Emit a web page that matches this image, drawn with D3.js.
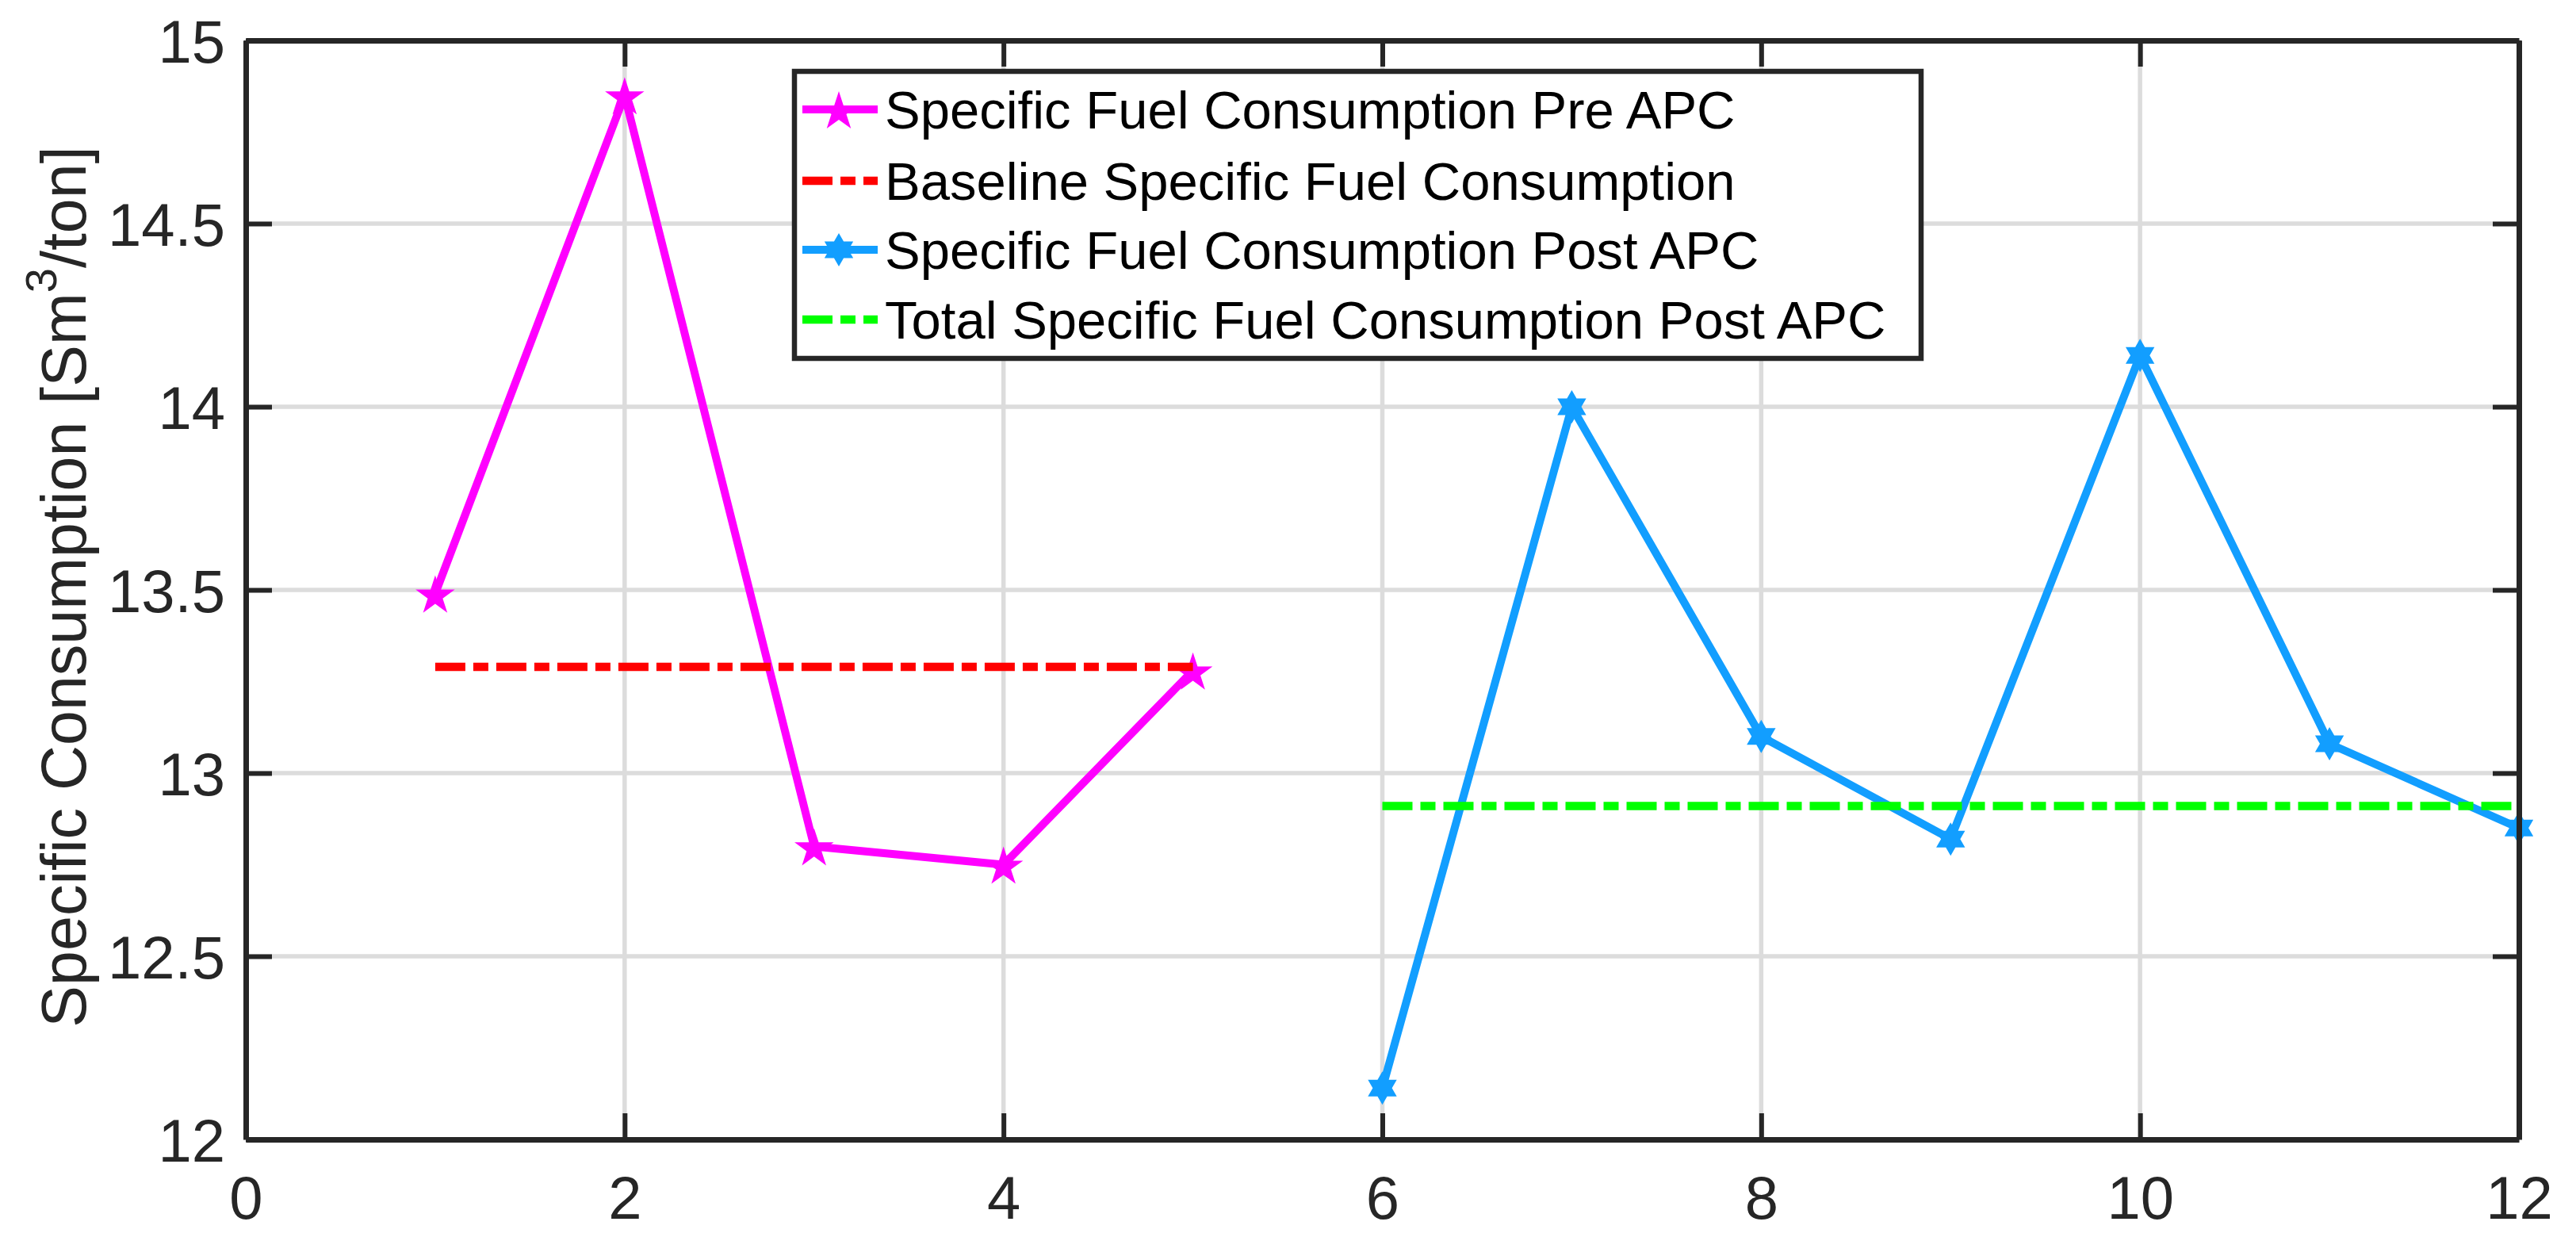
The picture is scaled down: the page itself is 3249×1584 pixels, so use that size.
<!DOCTYPE html>
<html>
<head>
<meta charset="utf-8">
<script src="https://cdn.jsdelivr.net/npm/d3@7"></script>
<style>
  html, body { margin: 0; padding: 0; background: #ffffff; }
  svg { display: block; }
  text { font-family: "Liberation Sans", Arial, Helvetica, sans-serif; }
</style>
</head>
<body>
<svg id="chart" width="3249" height="1584"></svg>
<script>
// ---------- data ----------
const xPre = [1, 2, 3, 4, 5];
const preAPC = [13.49, 14.85, 12.80, 12.75, 13.28];
const baselineX = [1, 5];
const baselineY = [13.29, 13.29];
const xPost = [6, 7, 8, 9, 10, 11, 12];
const postAPC = [12.14, 14.00, 13.10, 12.82, 14.14, 13.08, 12.85];
const totalPostX = [6, 12];
const totalPostY = [12.91, 12.91];
const xTicks = [0, 2, 4, 6, 8, 10, 12];
const xTickLabels = ["0", "2", "4", "6", "8", "10", "12"];
const yTicks = [12, 12.5, 13, 13.5, 14, 14.5, 15];
const yTickLabels = ["12", "12.5", "13", "13.5", "14", "14.5", "15"];
const legendLabels = [
  "Specific Fuel Consumption Pre APC",
  "Baseline Specific Fuel Consumption",
  "Specific Fuel Consumption Post APC",
  "Total Specific Fuel Consumption Post APC"
];

// ---------- layout ----------
const W = 3249, H = 1584;
const m = { left: 310, top: 51, right: W - 3177, bottom: H - 1437 };
const pw = W - m.left - m.right, ph = H - m.top - m.bottom;

const MAG = "#ff00ff", RED = "#ff0000", BLUE = "#129eff", GREEN = "#00ff00";
const AX = "#262626";
const DASHDOT = "38,10,19,10";

const svg = d3.select("#chart");
const g = svg.append("g").attr("transform", `translate(${m.left},${m.top})`);

const x = d3.scaleLinear().domain([0, 12]).range([0, pw]);
const y = d3.scaleLinear().domain([12, 15]).range([ph, 0]);

// grid
g.append("g").selectAll("line").data(xTicks.slice(1, -1)).join("line")
  .attr("x1", d => x(d)).attr("x2", d => x(d)).attr("y1", 0).attr("y2", ph)
  .attr("stroke", "#dcdcdc").attr("stroke-width", 5.5);
g.append("g").selectAll("line").data(yTicks.slice(1, -1)).join("line")
  .attr("y1", d => y(d)).attr("y2", d => y(d)).attr("x1", 0).attr("x2", pw)
  .attr("stroke", "#dcdcdc").attr("stroke-width", 5.5);

// markers
function starPath(r, n, ratio) {
  const pts = [];
  for (let i = 0; i < 2 * n; i++) {
    const rr = i % 2 === 0 ? r : r * ratio;
    const a = -Math.PI / 2 + i * Math.PI / n;
    pts.push([rr * Math.cos(a), rr * Math.sin(a)]);
  }
  return "M" + pts.map(p => p[0].toFixed(2) + "," + p[1].toFixed(2)).join("L") + "Z";
}
const pentagram = starPath(26, 5, 0.382);
const hexagram = starPath(21, 6, 0.577);

const line = d3.line().x(d => x(d[0])).y(d => y(d[1]));

// Pre APC
const preData = xPre.map((d, i) => [d, preAPC[i]]);
g.append("path").datum(preData).attr("d", line)
  .attr("fill", "none").attr("stroke", MAG).attr("stroke-width", 10).attr("stroke-linejoin", "round");
g.append("g").selectAll("path").data(preData).join("path")
  .attr("d", pentagram).attr("transform", d => `translate(${x(d[0])},${y(d[1]) + 3})`)
  .attr("fill", MAG);

// Baseline
const baseData = baselineX.map((d, i) => [d, baselineY[i]]);
g.append("path").datum(baseData).attr("d", line)
  .attr("fill", "none").attr("stroke", RED).attr("stroke-width", 10.5).attr("stroke-dasharray", DASHDOT);

// Post APC
const postData = xPost.map((d, i) => [d, postAPC[i]]);
g.append("path").datum(postData).attr("d", line)
  .attr("fill", "none").attr("stroke", BLUE).attr("stroke-width", 10).attr("stroke-linejoin", "round");
g.append("g").selectAll("path").data(postData).join("path")
  .attr("d", hexagram).attr("transform", d => `translate(${x(d[0])},${y(d[1])})`)
  .attr("fill", BLUE);

// Total post
const totData = totalPostX.map((d, i) => [d, totalPostY[i]]);
g.append("path").datum(totData).attr("d", line)
  .attr("fill", "none").attr("stroke", GREEN).attr("stroke-width", 10.5).attr("stroke-dasharray", DASHDOT);

// axes (box with inward ticks on all sides)
const tickLen = 33;
const xAxisB = d3.axisBottom(x).tickValues(xTicks).tickSizeInner(-tickLen).tickSizeOuter(0)
  .tickPadding(46).tickFormat((d, i) => xTickLabels[i]);
const xAxisT = d3.axisTop(x).tickValues(xTicks).tickSizeInner(-tickLen).tickSizeOuter(0).tickFormat("");
const yAxisL = d3.axisLeft(y).tickValues(yTicks).tickSizeInner(-tickLen).tickSizeOuter(0)
  .tickPadding(26).tickFormat((d, i) => yTickLabels[i]);
const yAxisR = d3.axisRight(y).tickValues(yTicks).tickSizeInner(-tickLen).tickSizeOuter(0).tickFormat("");

function styleAxis(sel) {
  sel.select(".domain").attr("stroke", AX).attr("stroke-width", 7);
  sel.selectAll(".tick line").attr("stroke", AX).attr("stroke-width", 6);
  sel.selectAll(".tick text").attr("fill", AX).attr("font-size", 76)
    .style("font-family", "'Liberation Sans', Arial, sans-serif");
}
const gxB = g.append("g").attr("transform", `translate(0,${ph})`).call(xAxisB).call(styleAxis);
gxB.selectAll(".tick text").attr("dy", "0.71em");
g.append("g").call(xAxisT).call(styleAxis);
const gyL = g.append("g").call(yAxisL).call(styleAxis);
gyL.selectAll(".tick text").attr("dy", "0.36em");
g.append("g").attr("transform", `translate(${pw},0)`).call(yAxisR).call(styleAxis);

// y label
const ylab = svg.append("text")
  .attr("transform", `translate(108,${m.top + ph / 2 - 4}) rotate(-90)`)
  .attr("text-anchor", "middle").attr("fill", AX).attr("font-size", 79);
ylab.append("tspan").text("Specific Consumption [Sm");
ylab.append("tspan").text("3").attr("font-size", 56).attr("dy", -37);
ylab.append("tspan").text("/ton]").attr("dy", 37);

// legend
const lg = svg.append("g").attr("transform", "translate(1002,90)");
const lw = 1421, lh = 362;
lg.append("rect").attr("width", lw).attr("height", lh)
  .attr("fill", "#ffffff").attr("stroke", AX).attr("stroke-width", 6.5);
const rowY = [48, 138, 225, 313];
const legendStyles = [
  { color: MAG, dash: null, w: 10, marker: pentagram },
  { color: RED, dash: DASHDOT, w: 10.5, marker: null },
  { color: BLUE, dash: null, w: 10, marker: hexagram },
  { color: GREEN, dash: DASHDOT, w: 10.5, marker: null }
];
legendLabels.forEach((lab, i) => {
  const st = legendStyles[i];
  const row = lg.append("g").attr("transform", `translate(0,${rowY[i]})`);
  row.append("line").attr("x1", 10).attr("x2", 105).attr("y1", 0).attr("y2", 0)
    .attr("stroke", st.color).attr("stroke-width", st.w)
    .attr("stroke-dasharray", st.dash);
  if (st.marker) row.append("path").attr("d", st.marker)
    .attr("transform", `translate(56,${i === 0 ? 3 : 0})`).attr("fill", st.color);
  row.append("text").attr("x", 114).attr("y", 0).attr("dy", "0.36em")
    .attr("font-size", 67).attr("fill", "#000000").text(lab);
});
</script>
</body>
</html>
